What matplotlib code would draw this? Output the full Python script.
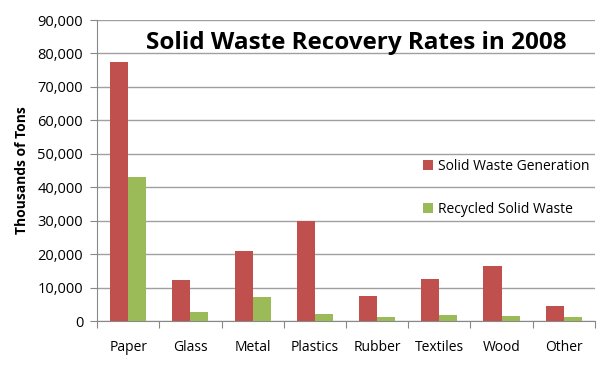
from matplotlib import pyplot as plt
from matplotlib.ticker import FuncFormatter
import numpy as np

categorias = ['Paper', 'Glass', 'Metal', 'Plastics', 'Rubber', 'Textiles', 'Wood', 'Other']
generacion = [77500, 12200, 21000, 30000, 7400, 12500, 16400, 4500]
reciclado = [43000, 2800, 7200, 2100, 1100, 1800, 1500, 1200]

rojo = '#C0504D'
verde = '#9BBB59'
plt.rcParams['font.family'] = ['Open Sans', 'DejaVu Sans']

fig = plt.figure(figsize=(6.07, 3.67), dpi=100)
ax = fig.add_axes([0.160, 0.1253, 0.820, 0.8202])

x = np.arange(len(categorias))
ancho = 0.29
ax.bar(x - ancho / 2, generacion, ancho, color=rojo, label='Solid Waste Generation', zorder=3)
ax.bar(x + ancho / 2, reciclado, ancho, color=verde, label='Recycled Solid Waste', zorder=3)

ax.set_xlim(-0.5, len(categorias) - 0.5)
ax.set_ylim(0, 90000)
ax.set_yticks(np.arange(0, 90001, 10000))
ax.yaxis.set_major_formatter(FuncFormatter(lambda v, p: f'{int(v):,}'))
ax.yaxis.grid(True, color='#A0A0A0', linewidth=1, zorder=0)

# ticks del eje x en los limites de categoria
ax.set_xticks(np.arange(-0.5, len(categorias), 1))
ax.set_xticklabels([])
ax.set_xticks(x, minor=True)
ax.set_xticklabels(categorias, minor=True, fontsize=10)
ax.tick_params(axis='x', which='minor', length=0, pad=14)
ax.tick_params(axis='x', which='major', length=5, color='#888888')
ax.tick_params(axis='y', length=5, color='#888888', labelsize=10.5, pad=5)

for s in ['top', 'right']:
    ax.spines[s].set_visible(False)
ax.spines['left'].set_color('#888888')
ax.spines['bottom'].set_color('#888888')

ax.set_ylabel('Thousands of Tons', fontsize=10, fontweight='bold', labelpad=6)
ax.text(0.52, 0.925, 'Solid Waste Recovery Rates in 2008', transform=ax.transAxes,
        ha='center', va='center', fontsize=17.5, fontweight='bold')

ax.legend(loc='center left', bbox_to_anchor=(0.63, 0.443), frameon=False, fontsize=10,
          handlelength=0.7, handleheight=0.7, handletextpad=0.4, labelspacing=2.0)

plt.savefig('out.png', dpi=100)
